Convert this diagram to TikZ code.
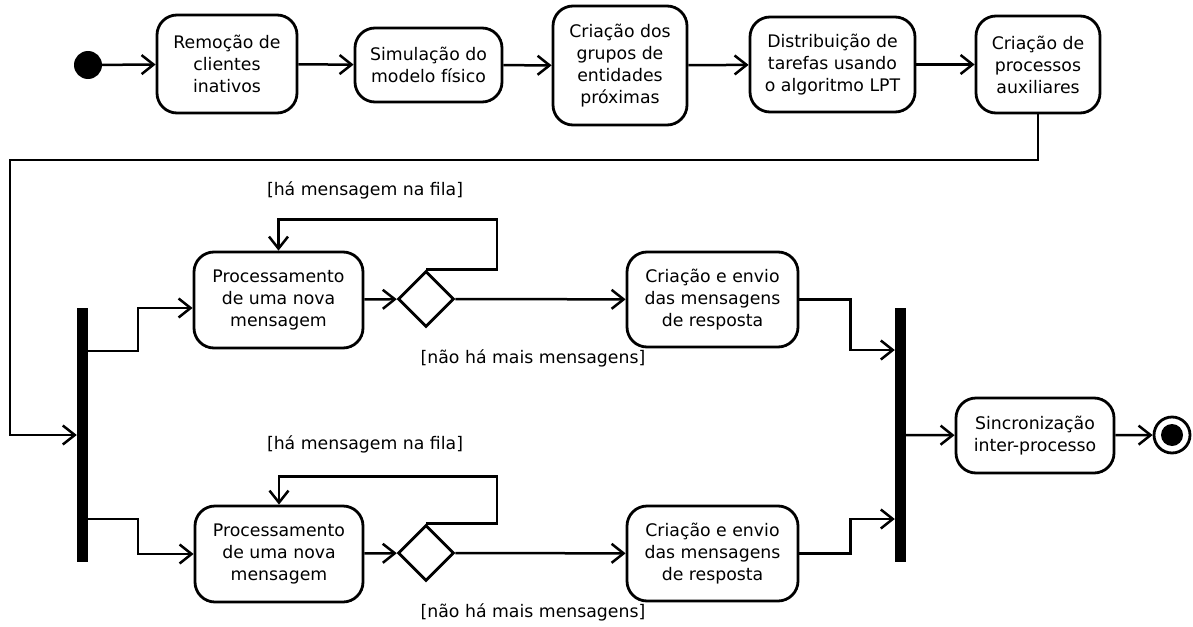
\documentclass[tikz,border=0pt]{standalone}
\usepackage{fontspec}
\setmainfont{DejaVu Sans}
\usetikzlibrary{arrows.meta,shapes.geometric}
\newcommand{\actfont}{\fontsize{17.3}{22}\selectfont}

\begin{document}
\begin{tikzpicture}[x=1pt, y=-1pt, flow/.style={-{Straight Barb[length=12pt,width=19pt]}, line width=2.5pt}, activity/.style={rectangle, rounded corners=20pt, draw, line width=2.8pt, align=center, inner sep=0pt, font=\actfont}, decision/.style={diamond, draw, line width=2.8pt, minimum width=56pt, minimum height=56pt, inner sep=0pt}, bar/.style={rectangle, fill, inner sep=0pt, minimum width=11pt, minimum height=254pt}, guard/.style={font=\actfont, inner sep=0pt}]

  \useasboundingbox (0,0) rectangle (1193,626);

  \node[circle, fill, inner sep=0pt, minimum size=28pt] (start) at (88,65) {};
  \node[activity, minimum width=140pt, minimum height=98pt] (remocao) at (227,64) {Remoção de\\clientes\\inativos};
  \node[activity, minimum width=147pt, minimum height=74pt] (simulacao) at (428.5,65) {Simulação do\\modelo físico};
  \node[activity, minimum width=134pt, minimum height=119pt] (grupos) at (620,65.5) {Criação dos\\grupos de\\entidades\\próximas};
  \node[activity, minimum width=165pt, minimum height=95pt] (distrib) at (832.5,64.5) {Distribuição de\\tarefas usando\\o algoritmo LPT};
  \node[activity, minimum width=124pt, minimum height=97pt] (auxiliares) at (1038,64.5) {Criação de\\processos\\auxiliares};
  \coordinate (volta) at (10,160);

  \node[bar] (fork) at (82.5,435) {};
  \node[activity, minimum width=169pt, minimum height=96pt] (proc1) at (278.5,300) {Processamento\\de uma nova\\mensagem};
  \node[decision] (dec1) at (426,299) {};
  \node[activity, minimum width=171pt, minimum height=95pt] (envio1) at (712.5,299.5) {Criação e envio\\das mensagens\\de resposta};
  \node[activity, minimum width=168pt, minimum height=96pt] (proc2) at (279,554) {Processamento\\de uma nova\\mensagem};
  \node[decision] (dec2) at (426,553) {};
  \node[activity, minimum width=171pt, minimum height=95pt] (envio2) at (712.5,553.5) {Criação e envio\\das mensagens\\de resposta};
  \node[bar] (join) at (900.5,435) {};
  \node[activity, minimum width=158pt, minimum height=75pt] (sync) at (1035,435.5) {Sincronização\\inter-processo};
  \node[circle, draw, line width=2.8pt, inner sep=0pt, minimum size=36pt] (end) at (1172,435) {};
  \fill (end.center) circle (11pt);

  \node[guard] (fila1) at (365,190) {[há mensagem na fila]};
  \node[guard] (fim1) at (533,358) {[não há mais mensagens]};
  \node[guard] (fila2) at (365,444) {[há mensagem na fila]};
  \node[guard] (fim2) at (533,612) {[não há mais mensagens]};

  \draw[flow] (start) -- (remocao);
  \draw[flow] (remocao) -- (simulacao);
  \draw[flow] (simulacao) -- (grupos);
  \draw[flow] (grupos) -- (distrib);
  \draw[flow] (distrib) -- (auxiliares);
  \draw[flow] (auxiliares.south) |- (volta) |- (fork.west);

  \draw[flow] ([yshift=84pt]fork.east) -- ++(50,0) |- ([yshift=-8pt]proc1.west);
  \draw[flow] ([yshift=-84pt]fork.east) -- ++(50,0) |- (proc2.west);

  \draw[flow] (proc1) -- (dec1);
  \draw[flow] (dec1.north) -- ++(71,0) |- ([yshift=31pt]proc1.north) -- (proc1.north);
  \draw[flow] (dec1) -- (envio1);
  \draw[flow] (proc2) -- (dec2);
  \draw[flow] (dec2.north) -- ++(71,0) |- ([yshift=28pt]proc2.north) -- (proc2.north);
  \draw[flow] (dec2) -- (envio2);

  \draw[flow] (envio1.east) -- ++(51,0) |- ([yshift=85pt]join.west);
  \draw[flow] (envio2.east) -- ++(51,0) |- ([yshift=-84pt]join.west);
  \draw[flow] (join) -- (sync);
  \draw[flow] (sync) -- (end);
\end{tikzpicture}
\end{document}
